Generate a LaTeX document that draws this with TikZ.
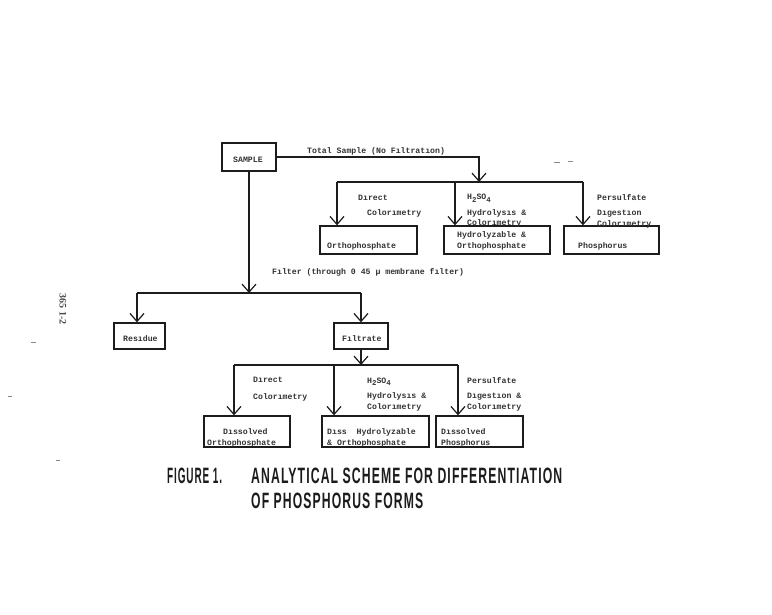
\documentclass[tikz,border=0pt]{standalone}
\usepackage{fontspec}
\usepackage{graphicx}
\setmainfont{Liberation Serif}
\newfontfamily\tw{Liberation Mono}
\newfontfamily\capfont[LetterSpace=9]{Liberation Sans}
\usetikzlibrary{arrows.meta}
\definecolor{ink}{HTML}{1C1C1C}
\definecolor{smudge}{HTML}{8A8A8A}
\newcommand{\hso}{H\raisebox{-2.6pt}{\fontsize{7.4}{8}\selectfont 2}SO\raisebox{-2.6pt}{\fontsize{7.4}{8}\selectfont 4}}
\begin{document}
\begin{tikzpicture}[x=1pt,y=-1pt,
  lbl/.style={anchor=base west,inner sep=0pt,font=\tw\bfseries\fontsize{8.2}{9}\selectfont,text=ink!90},
  pbox/.style={draw=ink,line width=1.3pt,rectangle,inner sep=0pt},
  wire/.style={draw=ink,line width=1.2pt},
  arr/.style={wire,-{Straight Barb[length=8pt,width=14pt,line width=1.2pt]}},
  captxt/.style={anchor=base west,inner sep=0pt,text=ink},
  smark/.style={draw=smudge,line width=1pt}
  ]
\useasboundingbox[fill=white] (0,0) rectangle (772,615);

% boxes
\node[pbox,minimum width=54pt,minimum height=28pt] (sample) at (249,157) {};
\node[pbox,minimum width=97pt,minimum height=28pt] (ortho) at (368.5,240) {};
\node[pbox,minimum width=106pt,minimum height=28pt] (hydro) at (497,240) {};
\node[pbox,minimum width=95pt,minimum height=28pt] (phos) at (611.5,240) {};
\node[pbox,minimum width=51pt,minimum height=26pt] (residue) at (139.5,336) {};
\node[pbox,minimum width=54pt,minimum height=26pt] (filtrate) at (361,336) {};
\node[pbox,minimum width=86pt,minimum height=31pt] (dortho) at (247,431.5) {};
\node[pbox,minimum width=107pt,minimum height=31pt] (dhydro) at (375.5,431.5) {};
\node[pbox,minimum width=87pt,minimum height=31pt] (dphos) at (479.5,431.5) {};

% junction coordinates
\coordinate (j1) at (479,182);
\coordinate (b1l) at (337,182);
\coordinate (b1m) at (455,182);
\coordinate (b1r) at (583,182);
\coordinate (j2) at (249,293);
\coordinate (b2l) at (137,293);
\coordinate (b2r) at (361,293);
\coordinate (j3) at (361,365);
\coordinate (b3l) at (234,365);
\coordinate (b3m) at (334,365);
\coordinate (b3r) at (458,365);

% connectors
\draw[arr] (sample.east) -| (j1);
\draw[wire] (b1l) -- (b1r);
\draw[arr] (b1l) -- (b1l |- ortho.north);
\draw[arr] (b1m) -- (b1m |- hydro.north);
\draw[arr] (b1r) -- (b1r |- phos.north);
\draw[arr] (sample.south) -- (j2);
\draw[wire] (b2l) -- (b2r);
\draw[arr] (b2l) -- (b2l |- residue.north);
\draw[arr] (b2r) -- (filtrate.north);
\draw[arr] (filtrate.south) -- (j3);
\draw[wire] (b3l) -- (b3r);
\draw[arr] (b3l) -- (b3l |- dortho.north);
\draw[arr] (b3m) -- (b3m |- dhydro.north);
\draw[arr] (b3r) -- (b3r |- dphos.north);

% box texts
\node[lbl,anchor=base] (tsample) at (248,163) {SAMPLE};
\node[lbl] (tortho) at (327,248) {Orthophosphate};
\node[lbl] (thydro1) at (457,238) {Hydrolyzable \&};
\node[lbl] (thydro2) at (457,249) {Orthophosphate};
\node[lbl] (tphos) at (578,249) {Phosphorus};
\node[lbl] (tres) at (123,341) {Resıdue};
\node[lbl] (tfil) at (342,341) {Fıltrate};
\node[lbl] (tdo1) at (223,434) {Dıssolved};
\node[lbl] (tdo2) at (207,445) {Orthophosphate};
\node[lbl] (tdh1) at (327,434) {Dıss~~Hydrolyzable};
\node[lbl] (tdh2) at (327,445) {\& Orthophosphate};
\node[lbl] (tdp1) at (441,434) {Dıssolved};
\node[lbl] (tdp2) at (441,445) {Phosphorus};

% connector labels
\node[lbl] (ttotal) at (307,154) {Total Sample (No Fıltratıon)};
\node[lbl] (td1) at (358,201) {Dırect};
\node[lbl] (td2) at (367,216) {Colorımetry};
\node[lbl] (th1) at (467,200) {\hso};
\node[lbl] (th2) at (467,216) {Hydrolysıs \&};
\node[lbl] (th3) at (467,225.5) {Colorımetry};
\node[lbl] (tp1) at (597,201) {Persulfate};
\node[lbl] (tp2) at (597,216) {Dıgestıon};
\node[lbl] (tp3) at (597,226) {Colorımetry};
\node[lbl] (tfilter) at (272,274) {Fılter (through 0 45 μ membrane fılter)};
\node[lbl] (bd1) at (253,382) {Dırect};
\node[lbl] (bd2) at (253,399) {Colorımetry};
\node[lbl] (bh1) at (367,383) {\hso};
\node[lbl] (bh2) at (367,398) {Hydrolysıs \&};
\node[lbl] (bh3) at (367,409) {Colorımetry};
\node[lbl] (bp1) at (467,383) {Persulfate};
\node[lbl] (bp2) at (467,398) {Dıgestıon \&};
\node[lbl] (bp3) at (467,409) {Colorımetry};

% caption
\node[captxt] (cfig) at (167,483.5) {\resizebox{55pt}{15.5pt}{\capfont\bfseries FIGURE 1.}};
\node[captxt] (cl1) at (251,483.5) {\resizebox{311pt}{15.5pt}{\capfont\bfseries ANALYTICAL SCHEME FOR DIFFERENTIATION}};
\node[captxt] (cl2) at (251,508) {\resizebox{172pt}{15.5pt}{\capfont\bfseries OF PHOSPHORUS FORMS}};

% margin marks
\node[inner sep=0pt,rotate=-90,font=\fontsize{10}{11}\selectfont\bfseries,text=ink!80] (page) at (63,309) {365 1-2};
\draw[smark] (31,342) -- (36,342);
\draw[smark] (8,396) -- (12,396);
\draw[smark] (56,460) -- (60,460);
\draw[smark] (554,163) -- (560,163);
\draw[smark] (568,162) -- (573,162);
\end{tikzpicture}
\end{document}
